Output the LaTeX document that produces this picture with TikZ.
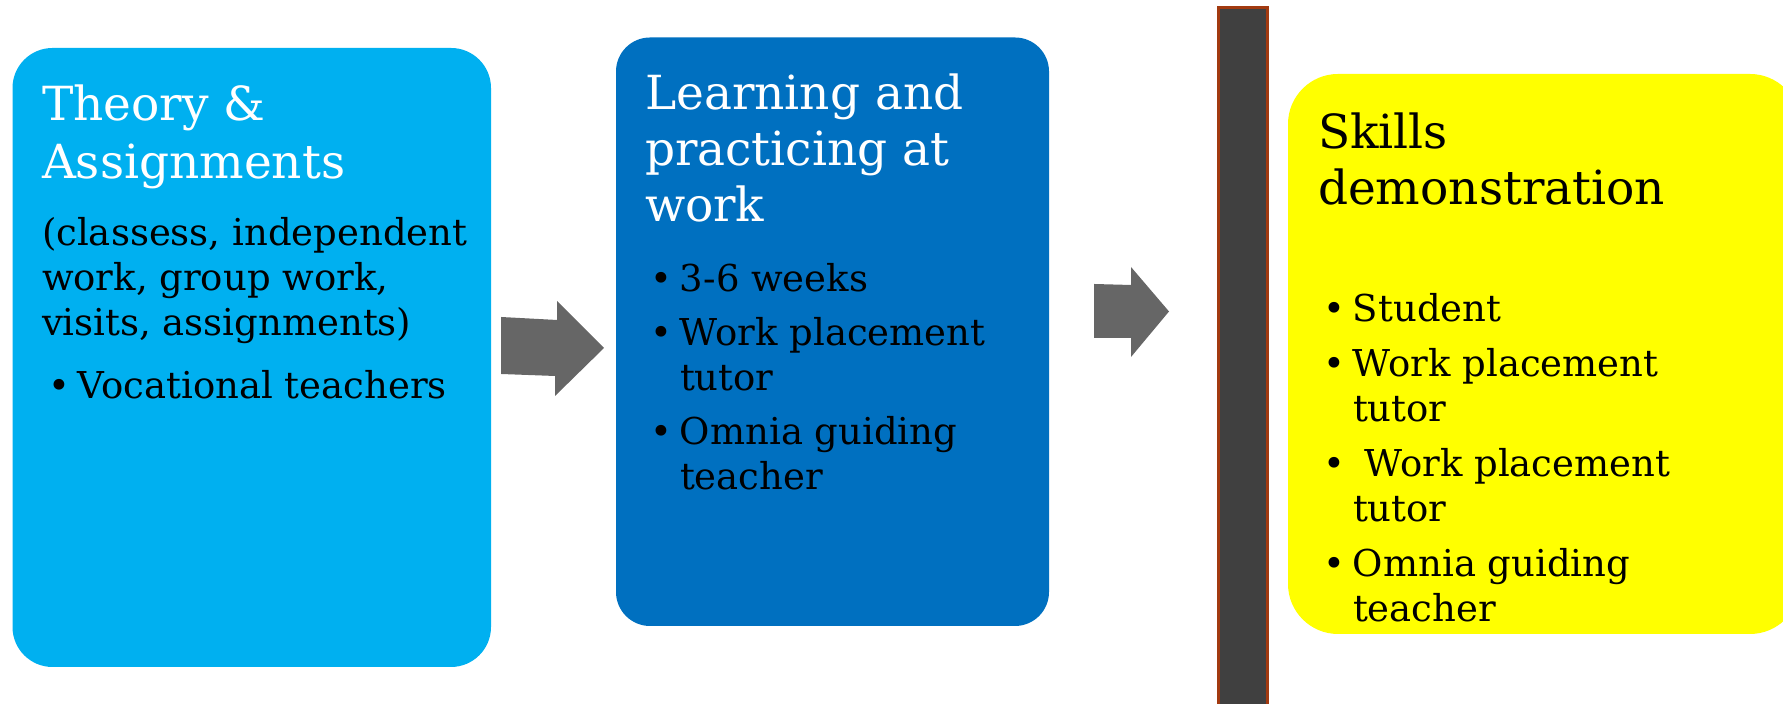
\documentclass[tikz,border=0pt]{standalone}
\usepackage{fontspec}
\setmainfont{DejaVu Serif}
\usepackage{tikz}
\usetikzlibrary{positioning}

\definecolor{skyblue}{HTML}{00B0F0}
\definecolor{deepblue}{HTML}{0070C0}
\definecolor{arrowgray}{HTML}{666666}
\definecolor{bargray}{HTML}{404040}
\definecolor{barrim}{HTML}{A23A10}
\definecolor{brightyellow}{HTML}{FFFF00}

\newcommand{\bitem}{\makebox[15pt][l]{\textbullet}}
\newcommand{\bcont}{\hspace*{15pt}}

\tikzset{
    box/.style={rectangle, inner sep=0pt},
    title/.style={inner sep=0pt, align=left, font=\fontsize{23.5}{28}\selectfont},
    body/.style={inner sep=0pt, align=left, font=\fontsize{18.5}{22.5}\selectfont},
    blockarrow/.style={fill=arrowgray}
}

\begin{document}
\begin{tikzpicture}[x=0.5pt, y=0.5pt]
    \useasboundingbox (0,0) rectangle (1783,704);
    \clip (0,0) rectangle (1783,704);

    % the three stages
    \node[box, fill=skyblue, rounded corners=20pt, minimum width=239.25pt, minimum height=309.5pt] (theory) at (251.75,346.5) {};
    \node[box, fill=deepblue, rounded corners=17pt, minimum width=216.5pt, minimum height=294.25pt] (learning) at (832.5,372.25) {};
    \node[box, fill=brightyellow, rounded corners=25pt, minimum width=256pt, minimum height=280pt] (skills) at (1544,350) {};

    % the bar before the demonstration
    \node[box, fill=bargray, draw=barrim, line width=1.5pt, minimum width=24.5pt, minimum height=356pt] (wall) at (1242.5,340) {};

    % arrows
    \fill[blockarrow] (501,387) -- (557,384) -- (557,403) -- (604,356) -- (555,308) -- (555,328) -- (501,330) -- cycle;
    \fill[blockarrow] (1094,420) -- (1131,419) -- (1131,437) -- (1169,392.5) -- (1131,347) -- (1131,366) -- (1094,366) -- cycle;

    % texts
    \node[title, font=\fontsize{23.5}{29}\selectfont, text=white, below right=18.5pt and 14.75pt of theory.north west] (theorytitle) {Theory \&\\Assignments};
    \node[body, below right=84.5pt and 14.75pt of theory.north west] (theorybody) {(classess, independent\\work, group work,\\visits, assignments)};
    \node[body, below right=161pt and 17.75pt of theory.north west] (theoryitems) {\bitem Vocational teachers};

    \node[title, text=white, below right=18pt and 14.5pt of learning.north west] (learningtitle) {Learning and\\practicing at\\work};
    \node[body, below right=113pt and 17pt of learning.north west] (learningitems) {\bitem 3-6 weeks\\[4.5pt]
        \bitem Work placement\\\bcont tutor\\[4.5pt]
        \bitem Omnia guiding\\\bcont teacher};

    \node[title, below right=19.5pt and 15pt of skills.north west] (skillstitle) {Skills\\demonstration};
    \node[body, below right=109.5pt and 17.5pt of skills.north west] (skillsitems) {\bitem Student\\[5pt]
        \bitem Work placement\\\bcont tutor\\[5pt]
        \bitem\ Work placement\\\bcont tutor\\[5pt]
        \bitem Omnia guiding\\\bcont teacher};
\end{tikzpicture}
\end{document}
